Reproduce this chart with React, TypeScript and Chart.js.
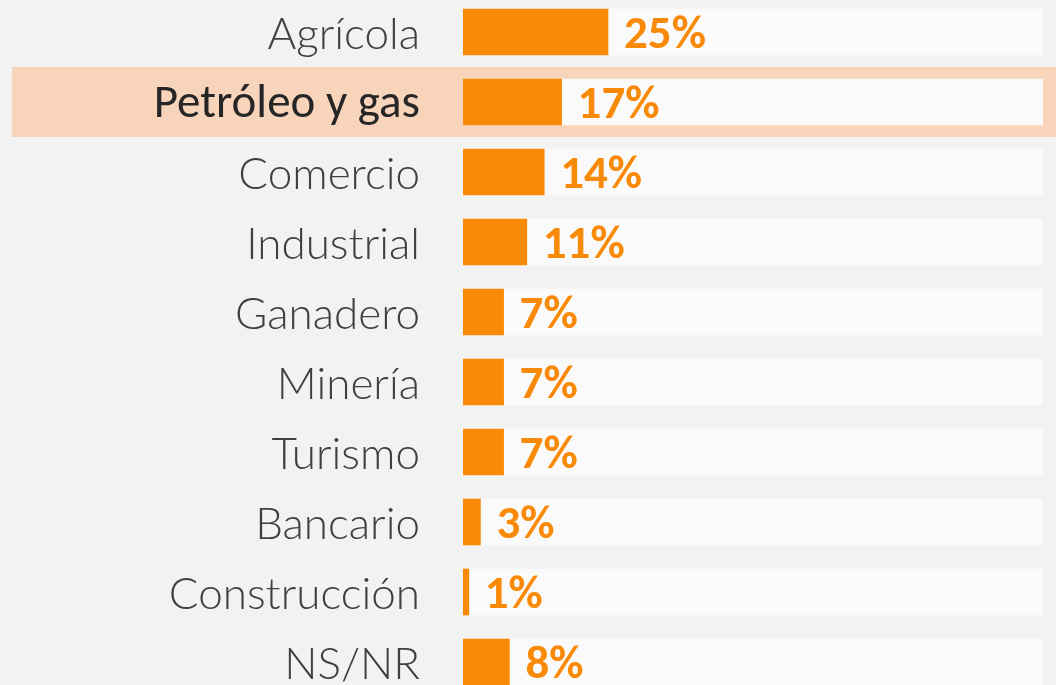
import React, { useEffect, useRef } from "react";
import { Chart, registerables } from "chart.js";

Chart.register(...registerables);

const categories = [
  "Agrícola",
  "Petróleo y gas",
  "Comercio",
  "Industrial",
  "Ganadero",
  "Minería",
  "Turismo",
  "Bancario",
  "Construcción",
  "NS/NR",
];
const values = [25, 17, 14, 11, 7, 7, 7, 3, 1, 8];
const trackValues = [100, 100, 100, 100, 100, 100, 100, 100, 100, 100];
const highlightIndex = 1;

const ORANGE = "#F98A07";
const BAND = "#F8D4BB";
const TRACK = "#FAFAFA";
const BG = "#F2F2F2";
const FONT = "Carlito, Calibri, Lato, 'Open Sans', sans-serif";
const LIGHT_FONT = "'Lato Light', 'Lato Hairline', Carlito, Lato, sans-serif";

export default function App() {
  const ref = useRef<HTMLCanvasElement | null>(null);

  useEffect(() => {
    if (!ref.current) return;
    const bgPlugin = {
      id: "bgBand",
      beforeDraw(chart: any) {
        const { ctx, width, height } = chart;
        ctx.save();
        ctx.fillStyle = BG;
        ctx.fillRect(0, 0, width, height);
        const y = chart.scales.y;
        const step = (y.bottom - y.top) / categories.length;
        const cy = y.getPixelForValue(highlightIndex);
        ctx.fillStyle = BAND;
        ctx.fillRect(12, cy - step / 2, width - 12, step);
        ctx.restore();
      },
    };
    const labelPlugin = {
      id: "valueLabels",
      afterDatasetsDraw(chart: any) {
        const { ctx } = chart;
        const y = chart.scales.y;
        ctx.save();
        // category labels
        ctx.textAlign = "right";
        ctx.textBaseline = "middle";
        categories.forEach((c, i) => {
          const hi = i === highlightIndex;
          ctx.fillStyle = hi ? "#262626" : "#404040";
          ctx.font = hi ? `47px ${FONT}` : `44px ${LIGHT_FONT}`;
          ctx.fillText(c, y.right - 43, y.getPixelForValue(i) + 3);
        });
        // value labels
        const meta = chart.getDatasetMeta(0);
        ctx.fillStyle = ORANGE;
        ctx.font = `bold 47px ${FONT}`;
        ctx.textAlign = "left";
        meta.data.forEach((bar: any, i: number) => {
          ctx.fillText(values[i] + "%", bar.x + 16, bar.y + 4);
        });
        ctx.restore();
      },
    };
    const chart = new Chart(ref.current, {
      type: "bar",
      data: {
        labels: categories,
        datasets: [
          {
            data: values,
            backgroundColor: ORANGE,
            barThickness: 46,
            grouped: false,
          },
          {
            data: trackValues,
            backgroundColor: TRACK,
            barThickness: 46,
            grouped: false,
          },
        ],
      },
      options: {
        indexAxis: "y",
        animation: false,
        responsive: false,
        maintainAspectRatio: false,
        layout: { padding: { top: 0, bottom: 0, left: 0, right: 13 } },
        plugins: {
          legend: { display: false },
          tooltip: { enabled: false },
        },
        scales: {
          x: { display: false, min: 0, max: 100 },
          y: {
            border: { display: false },
            grid: { display: false, drawTicks: false },
            afterFit(s: any) {
              s.width = 463;
              s.paddingTop = 0;
              s.paddingBottom = 0;
            },
            ticks: { display: false },
          },
        },
      },
      plugins: [bgPlugin, labelPlugin],
    });
    return () => chart.destroy();
  }, []);

  return (
    <div
      style={{
        position: "fixed",
        left: 0,
        top: 0,
        width: 1056,
        height: 685,
        overflow: "hidden",
        background: BG,
      }}
    >
      <canvas
        ref={ref}
        width={1056}
        height={700}
        style={{ position: "absolute", left: 0, top: -3, width: 1056, height: 700 }}
      />
    </div>
  );
}
